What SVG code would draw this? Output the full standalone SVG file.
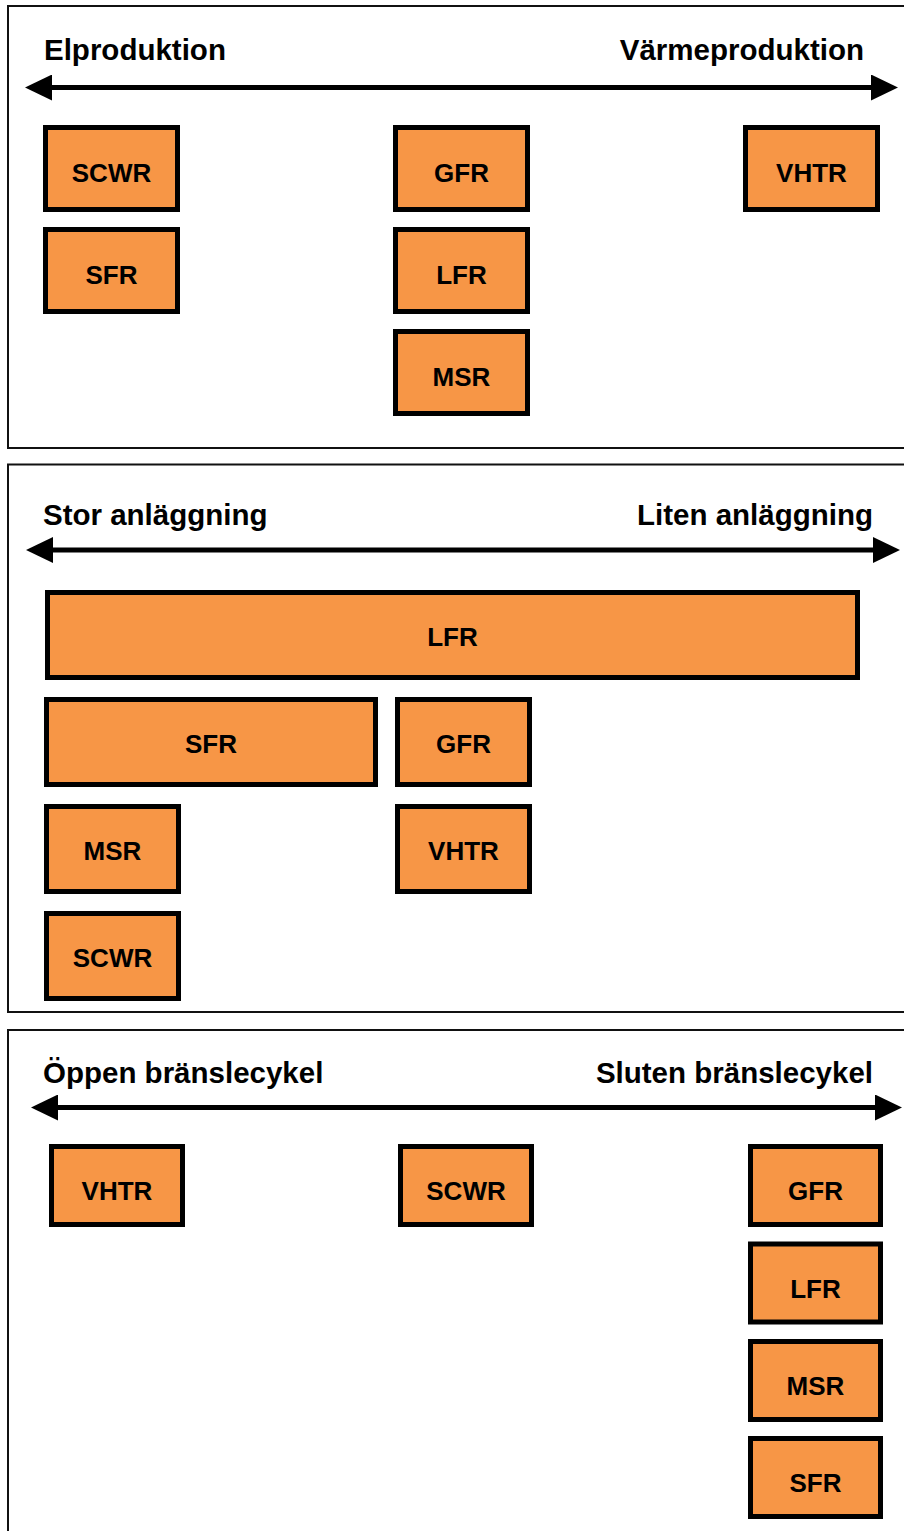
<svg xmlns="http://www.w3.org/2000/svg" width="904" height="1531" viewBox="0 0 904 1531">
<style>
.panel{fill:#fff;stroke:#111;stroke-width:2}
.box{fill:#F79646;stroke:#000;stroke-width:5}
.lbl{font-family:"Liberation Sans",Arial,sans-serif;font-weight:bold;font-size:26px;fill:#000;text-anchor:middle}
.hdr{font-family:"Liberation Sans",Arial,sans-serif;font-weight:bold;font-size:29.5px;fill:#000}
.axis{stroke:#000;stroke-width:5;fill:none}
</style>
<defs>
<marker id="head" viewBox="0 0 27 26" refX="1" refY="13" markerWidth="27" markerHeight="26" markerUnits="userSpaceOnUse" orient="auto-start-reverse">
<path d="M0,0 L27,13 L0,26 z" fill="#000"/>
</marker>
</defs>
<rect width="904" height="1531" fill="#fff"/>
<g id="panels">
<rect class="panel" x="8" y="6" width="910" height="442"/>
<rect class="panel" x="8" y="464.5" width="910" height="547.5"/>
<rect class="panel" x="8" y="1030" width="910" height="520"/>
</g>
<g id="headers">
<text class="hdr" x="44" y="60">Elproduktion</text>
<text class="hdr" x="864" y="60" text-anchor="end">Värmeproduktion</text>
<text class="hdr" x="43" y="525">Stor anläggning</text>
<text class="hdr" x="873" y="525" text-anchor="end">Liten anläggning</text>
<text class="hdr" x="43" y="1083">Öppen bränslecykel</text>
<text class="hdr" x="873" y="1083" text-anchor="end">Sluten bränslecykel</text>
</g>
<g id="connectors">
<line class="axis" x1="51" y1="87.5" x2="872" y2="87.5" marker-start="url(#head)" marker-end="url(#head)"/>
<line class="axis" x1="52" y1="550" x2="874" y2="550" marker-start="url(#head)" marker-end="url(#head)"/>
<line class="axis" x1="57" y1="1107.5" x2="876" y2="1107.5" marker-start="url(#head)" marker-end="url(#head)"/>
</g>
<g id="p1-scwr"><rect class="box" x="45.5" y="127.5" width="132" height="82"/><text class="lbl" x="111.5" y="182">SCWR</text></g>
<g id="p1-sfr"><rect class="box" x="45.5" y="229.5" width="132" height="82"/><text class="lbl" x="111.5" y="284">SFR</text></g>
<g id="p1-gfr"><rect class="box" x="395.5" y="127.5" width="132" height="82"/><text class="lbl" x="461.5" y="182">GFR</text></g>
<g id="p1-lfr"><rect class="box" x="395.5" y="229.5" width="132" height="82"/><text class="lbl" x="461.5" y="284">LFR</text></g>
<g id="p1-msr"><rect class="box" x="395.5" y="331.5" width="132" height="82"/><text class="lbl" x="461.5" y="386">MSR</text></g>
<g id="p1-vhtr"><rect class="box" x="745.5" y="127.5" width="132" height="82"/><text class="lbl" x="811.5" y="182">VHTR</text></g>
<g id="p2-lfr"><rect class="box" x="47.5" y="592.5" width="810" height="85"/><text class="lbl" x="452.5" y="645.5">LFR</text></g>
<g id="p2-sfr"><rect class="box" x="46.5" y="699.5" width="329" height="85"/><text class="lbl" x="211" y="752.5">SFR</text></g>
<g id="p2-gfr"><rect class="box" x="397.5" y="699.5" width="132" height="85"/><text class="lbl" x="463.5" y="752.5">GFR</text></g>
<g id="p2-msr"><rect class="box" x="46.5" y="806.5" width="132" height="85"/><text class="lbl" x="112.5" y="859.5">MSR</text></g>
<g id="p2-vhtr"><rect class="box" x="397.5" y="806.5" width="132" height="85"/><text class="lbl" x="463.5" y="859.5">VHTR</text></g>
<g id="p2-scwr"><rect class="box" x="46.5" y="913.5" width="132" height="85"/><text class="lbl" x="112.5" y="966.5">SCWR</text></g>
<g id="p3-vhtr"><rect class="box" x="51.5" y="1146.5" width="131" height="78"/><text class="lbl" x="117" y="1200">VHTR</text></g>
<g id="p3-scwr"><rect class="box" x="400.5" y="1146.5" width="131" height="78"/><text class="lbl" x="466" y="1200">SCWR</text></g>
<g id="p3-gfr"><rect class="box" x="750.5" y="1146.5" width="130" height="78"/><text class="lbl" x="815.5" y="1200">GFR</text></g>
<g id="p3-lfr"><rect class="box" x="750.5" y="1244" width="130" height="78"/><text class="lbl" x="815.5" y="1297.5">LFR</text></g>
<g id="p3-msr"><rect class="box" x="750.5" y="1341.5" width="130" height="78"/><text class="lbl" x="815.5" y="1395">MSR</text></g>
<g id="p3-sfr"><rect class="box" x="750.5" y="1438.5" width="130" height="78"/><text class="lbl" x="815.5" y="1492">SFR</text></g>
</svg>
